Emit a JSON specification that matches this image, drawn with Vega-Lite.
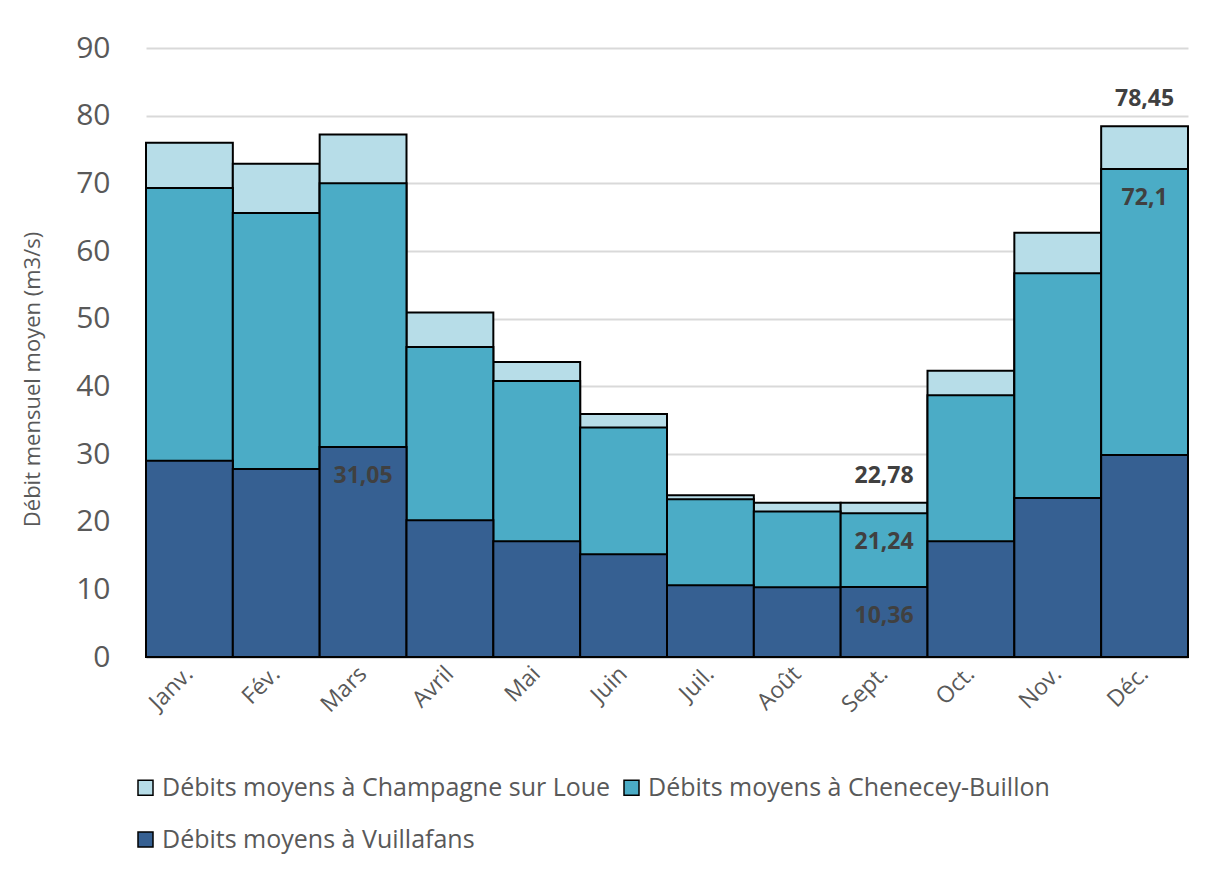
{
  "$schema": "https://vega.github.io/schema/vega-lite/v6.json",
  "autosize": {"type": "none"},
  "width": 1042,
  "height": 609,
  "padding": {"left": 146, "top": 48, "right": 18, "bottom": 212},
  "background": "white",
  "config": {
    "locale": {"number": {"decimal": ",", "thousands": " ", "grouping": [3], "currency": ["", " €"]}},
    "font": "Open Sans",
    "view": {"stroke": null}
  },
  "data": {
    "values": [
      {"mois": "Janv.", "station": "Débits moyens à Champagne sur Loue", "debit": 76.0},
      {"mois": "Fév.", "station": "Débits moyens à Champagne sur Loue", "debit": 72.9},
      {"mois": "Mars", "station": "Débits moyens à Champagne sur Loue", "debit": 77.2},
      {"mois": "Avril", "station": "Débits moyens à Champagne sur Loue", "debit": 50.9},
      {"mois": "Mai", "station": "Débits moyens à Champagne sur Loue", "debit": 43.6},
      {"mois": "Juin", "station": "Débits moyens à Champagne sur Loue", "debit": 35.9},
      {"mois": "Juil.", "station": "Débits moyens à Champagne sur Loue", "debit": 23.9},
      {"mois": "Août", "station": "Débits moyens à Champagne sur Loue", "debit": 22.8},
      {"mois": "Sept.", "station": "Débits moyens à Champagne sur Loue", "debit": 22.78},
      {"mois": "Oct.", "station": "Débits moyens à Champagne sur Loue", "debit": 42.3},
      {"mois": "Nov.", "station": "Débits moyens à Champagne sur Loue", "debit": 62.7},
      {"mois": "Déc.", "station": "Débits moyens à Champagne sur Loue", "debit": 78.45},
      {"mois": "Janv.", "station": "Débits moyens à Chenecey-Buillon", "debit": 69.3},
      {"mois": "Fév.", "station": "Débits moyens à Chenecey-Buillon", "debit": 65.6},
      {"mois": "Mars", "station": "Débits moyens à Chenecey-Buillon", "debit": 70.0},
      {"mois": "Avril", "station": "Débits moyens à Chenecey-Buillon", "debit": 45.8},
      {"mois": "Mai", "station": "Débits moyens à Chenecey-Buillon", "debit": 40.8},
      {"mois": "Juin", "station": "Débits moyens à Chenecey-Buillon", "debit": 33.9},
      {"mois": "Juil.", "station": "Débits moyens à Chenecey-Buillon", "debit": 23.3},
      {"mois": "Août", "station": "Débits moyens à Chenecey-Buillon", "debit": 21.5},
      {"mois": "Sept.", "station": "Débits moyens à Chenecey-Buillon", "debit": 21.24},
      {"mois": "Oct.", "station": "Débits moyens à Chenecey-Buillon", "debit": 38.7},
      {"mois": "Nov.", "station": "Débits moyens à Chenecey-Buillon", "debit": 56.7},
      {"mois": "Déc.", "station": "Débits moyens à Chenecey-Buillon", "debit": 72.1},
      {"mois": "Janv.", "station": "Débits moyens à Vuillafans", "debit": 29.0},
      {"mois": "Fév.", "station": "Débits moyens à Vuillafans", "debit": 27.8},
      {"mois": "Mars", "station": "Débits moyens à Vuillafans", "debit": 31.05},
      {"mois": "Avril", "station": "Débits moyens à Vuillafans", "debit": 20.2},
      {"mois": "Mai", "station": "Débits moyens à Vuillafans", "debit": 17.1},
      {"mois": "Juin", "station": "Débits moyens à Vuillafans", "debit": 15.2},
      {"mois": "Juil.", "station": "Débits moyens à Vuillafans", "debit": 10.6},
      {"mois": "Août", "station": "Débits moyens à Vuillafans", "debit": 10.3},
      {"mois": "Sept.", "station": "Débits moyens à Vuillafans", "debit": 10.36},
      {"mois": "Oct.", "station": "Débits moyens à Vuillafans", "debit": 17.1},
      {"mois": "Nov.", "station": "Débits moyens à Vuillafans", "debit": 23.5},
      {"mois": "Déc.", "station": "Débits moyens à Vuillafans", "debit": 29.85}
    ]
  },
  "encoding": {
    "x": {
      "field": "mois", "type": "nominal", "sort": null,
      "scale": {"paddingInner": 0, "paddingOuter": 0},
      "axis": {
        "title": null, "labelAngle": -45, "labelAlign": "right", "labelBaseline": "middle",
        "labelFontSize": 23, "labelColor": "#595959", "labelPadding": 13,
        "ticks": false, "domainColor": "#bfbfbf", "domainWidth": 2
      }
    },
    "y": {
      "field": "debit", "type": "quantitative", "stack": null,
      "scale": {"domain": [0, 90], "nice": false},
      "axis": {
        "title": "Débit mensuel moyen (m3/s)", "titleFontSize": 22, "titleFontWeight": "normal",
        "titleColor": "#595959", "titleX": -114, "titleY": 331, "titleAngle": -90,
        "titleAlign": "center", "titleBaseline": "middle",
        "values": [0, 10, 20, 30, 40, 50, 60, 70, 80, 90],
        "labelFontSize": 30, "labelColor": "#595959", "labelPadding": 36,
        "ticks": false, "domain": false, "gridColor": "#d9d9d9", "gridWidth": 2
      }
    }
  },
  "layer": [
    {
      "mark": {"type": "bar", "stroke": "black", "strokeWidth": 2},
      "encoding": {
        "color": {
          "field": "station", "type": "nominal",
          "scale": {
            "domain": ["Débits moyens à Champagne sur Loue", "Débits moyens à Chenecey-Buillon", "Débits moyens à Vuillafans"],
            "range": ["#b7dde8", "#4bacc6", "#366092"]
          },
          "legend": {
            "title": null, "orient": "none", "legendX": -13, "legendY": 727,
            "direction": "horizontal", "columns": 2, "columnPadding": 8, "rowPadding": 26,
            "symbolType": "square", "symbolSize": 225, "symbolStrokeColor": "black", "symbolStrokeWidth": 1.5,
            "symbolOpacity": 1,
            "labelFontSize": 25, "labelColor": "#595959", "labelLimit": 700, "labelOffset": 4
          }
        }
      }
    },
    {
      "transform": [{"filter": "datum.station == 'Débits moyens à Champagne sur Loue' && (datum.mois == 'Sept.' || datum.mois == 'Déc.')"}],
      "mark": {"type": "text", "fontWeight": "bold", "fontSize": 23, "color": "#404040", "baseline": "middle", "dy": -27},
      "encoding": {"text": {"field": "debit", "type": "quantitative", "format": ".2~f"}}
    },
    {
      "transform": [{"filter": "(datum.station == 'Débits moyens à Chenecey-Buillon' && (datum.mois == 'Sept.' || datum.mois == 'Déc.')) || (datum.station == 'Débits moyens à Vuillafans' && (datum.mois == 'Mars' || datum.mois == 'Sept.'))"}],
      "mark": {"type": "text", "fontWeight": "bold", "fontSize": 23, "color": "#404040", "baseline": "middle", "dy": 29},
      "encoding": {"text": {"field": "debit", "type": "quantitative", "format": ".2~f"}}
    }
  ]
}
